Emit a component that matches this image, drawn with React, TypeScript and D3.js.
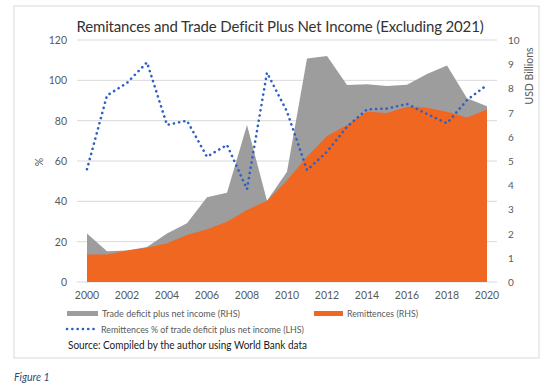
import React, { useEffect, useRef } from 'react';
import * as d3 from 'd3';

const years = d3.range(2000, 2021);
// USD billions (RHS)
const tradeDeficit = [2.0, 1.27, 1.3, 1.45, 2.0, 2.43, 3.5, 3.69, 6.49, 3.36, 4.56, 9.24, 9.34, 8.14, 8.17, 8.1, 8.15, 8.6, 8.95, 7.59, 7.26];
const remittances = [1.14, 1.14, 1.3, 1.42, 1.6, 1.94, 2.18, 2.49, 2.98, 3.36, 4.2, 5.18, 6.03, 6.49, 7.04, 6.98, 7.24, 7.2, 7.04, 6.8, 7.13];
// % (LHS)
const remitPct = [55.9, 92.5, 98.7, 108.9, 77.9, 80, 62.1, 68, 46, 103.8, 84.5, 55.5, 64.6, 77, 85.6, 86, 88.3, 83.3, 78.7, 90.2, 97.7];
const leftTicks = [0, 20, 40, 60, 80, 100, 120];
const rightTicks = d3.range(0, 11);
const xTickYears = d3.range(2000, 2021, 2);

const FONT = 'Lato, "Open Sans", sans-serif';

export default function App() {
  const svgRef = useRef<SVGSVGElement>(null);

  useEffect(() => {
    if (!svgRef.current) return;
    const svg = d3.select(svgRef.current);
    svg.selectAll('*').remove();

    const plot = { left: 77, right: 497, top: 40, bottom: 282 };

    const x = d3.scalePoint<number>()
      .domain(years)
      .range([plot.left, plot.right])
      .padding(0.5);
    const yL = d3.scaleLinear().domain([0, 120]).range([plot.bottom, plot.top]);
    const yR = d3.scaleLinear().domain([0, 10]).range([plot.bottom, plot.top]);

    // frame
    svg.append('rect')
      .attr('x', 14).attr('y', 6).attr('width', 525).attr('height', 352)
      .attr('fill', 'none').attr('stroke', '#d9d9d9').attr('stroke-width', 1);

    // title
    svg.append('text')
      .attr('x', 280).attr('y', 32)
      .attr('text-anchor', 'middle')
      .attr('font-family', FONT).attr('font-size', 15)
      .attr('letter-spacing', '-0.15px')
      .attr('fill', '#333')
      .text('Remitances and Trade Deficit Plus Net Income (Excluding 2021)');

    // gridlines
    svg.append('g')
      .selectAll('line')
      .data(leftTicks)
      .join('line')
      .attr('x1', plot.left).attr('x2', plot.right)
      .attr('y1', d => yL(d)).attr('y2', d => yL(d))
      .attr('stroke', '#d9d9d9').attr('stroke-width', 1);

    // areas
    const areaOf = (vals: number[]) => d3.area<number>()
      .x((_, i) => x(years[i]) as number)
      .y0(yR(0))
      .y1(d => yR(d))(vals);

    svg.append('path').attr('d', areaOf(tradeDeficit)).attr('fill', '#9d9d9d');
    svg.append('path').attr('d', areaOf(remittances)).attr('fill', '#f06722');

    // dotted line
    const line = d3.line<number>()
      .x((_, i) => x(years[i]) as number)
      .y(d => yL(d));
    svg.append('path')
      .attr('d', line(remitPct))
      .attr('fill', 'none')
      .attr('stroke', '#2d5fc4')
      .attr('stroke-width', 2.6)
      .attr('stroke-linecap', 'round')
      .attr('stroke-dasharray', '0.1,5.2');

    // left axis labels
    svg.append('g')
      .selectAll('text')
      .data(leftTicks)
      .join('text')
      .attr('x', 67).attr('y', d => yL(d) + 4)
      .attr('text-anchor', 'end')
      .attr('font-family', FONT).attr('font-size', 10.5).attr('fill', '#595959')
      .text(d => d);

    // right axis labels
    svg.append('g')
      .selectAll('text')
      .data(rightTicks)
      .join('text')
      .attr('x', 508).attr('y', d => yR(d) + 4)
      .attr('text-anchor', 'start')
      .attr('font-family', FONT).attr('font-size', 10).attr('fill', '#595959')
      .text(d => d);

    // x axis labels
    svg.append('g')
      .selectAll('text')
      .data(xTickYears)
      .join('text')
      .attr('x', d => x(d) as number).attr('y', 299)
      .attr('text-anchor', 'middle')
      .attr('font-family', FONT).attr('font-size', 10.5).attr('fill', '#595959')
      .text(d => d);

    // axis titles
    svg.append('text')
      .attr('transform', 'translate(43,162) rotate(-90)')
      .attr('text-anchor', 'middle')
      .attr('font-family', FONT).attr('font-size', 10.5).attr('fill', '#595959')
      .text('%');
    svg.append('text')
      .attr('transform', 'translate(533,76) rotate(-90)')
      .attr('text-anchor', 'middle')
      .attr('font-family', FONT).attr('font-size', 10.5).attr('fill', '#595959')
      .text('USD Billions');

    // legend
    const leg = svg.append('g').attr('font-family', FONT).attr('fill', '#595959');
    leg.append('rect').attr('x', 67).attr('y', 311).attr('width', 31).attr('height', 5).attr('fill', '#9d9d9d');
    leg.append('text').attr('x', 102).attr('y', 317).attr('font-size', 9.5)
      .attr('textLength', 138).attr('lengthAdjust', 'spacingAndGlyphs')
      .text('Trade deficit plus net  income (RHS)');
    leg.append('rect').attr('x', 314).attr('y', 311).attr('width', 29).attr('height', 5).attr('fill', '#f06722');
    leg.append('text').attr('x', 347).attr('y', 317).attr('font-size', 9.5)
      .attr('textLength', 71).attr('lengthAdjust', 'spacingAndGlyphs')
      .text('Remittences (RHS)');
    leg.append('line')
      .attr('x1', 67).attr('x2', 94).attr('y1', 329).attr('y2', 329)
      .attr('stroke', '#2d5fc4').attr('stroke-width', 2.6)
      .attr('stroke-linecap', 'round').attr('stroke-dasharray', '0.1,5.2');
    leg.append('text').attr('x', 101).attr('y', 333).attr('font-size', 9.5)
      .attr('textLength', 203).attr('lengthAdjust', 'spacingAndGlyphs')
      .text('Remittences % of trade deficit plus net income (LHS)');

    svg.append('text')
      .attr('x', 68).attr('y', 349)
      .attr('font-family', FONT).attr('font-size', 11.5).attr('fill', '#1a1a1a')
      .attr('textLength', 239).attr('lengthAdjust', 'spacingAndGlyphs')
      .text('Source: Compiled by the author using World Bank data');

    svg.append('text')
      .attr('x', 14).attr('y', 381)
      .attr('font-family', FONT).attr('font-size', 10.5).attr('font-style', 'italic')
      .attr('fill', '#2b4a7a')
      .text('Figure 1');
  }, []);

  return (
    <svg
      ref={svgRef}
      width={550}
      height={391}
      style={{ position: 'absolute', left: 0, top: 0, background: '#fff' }}
    />
  );
}
